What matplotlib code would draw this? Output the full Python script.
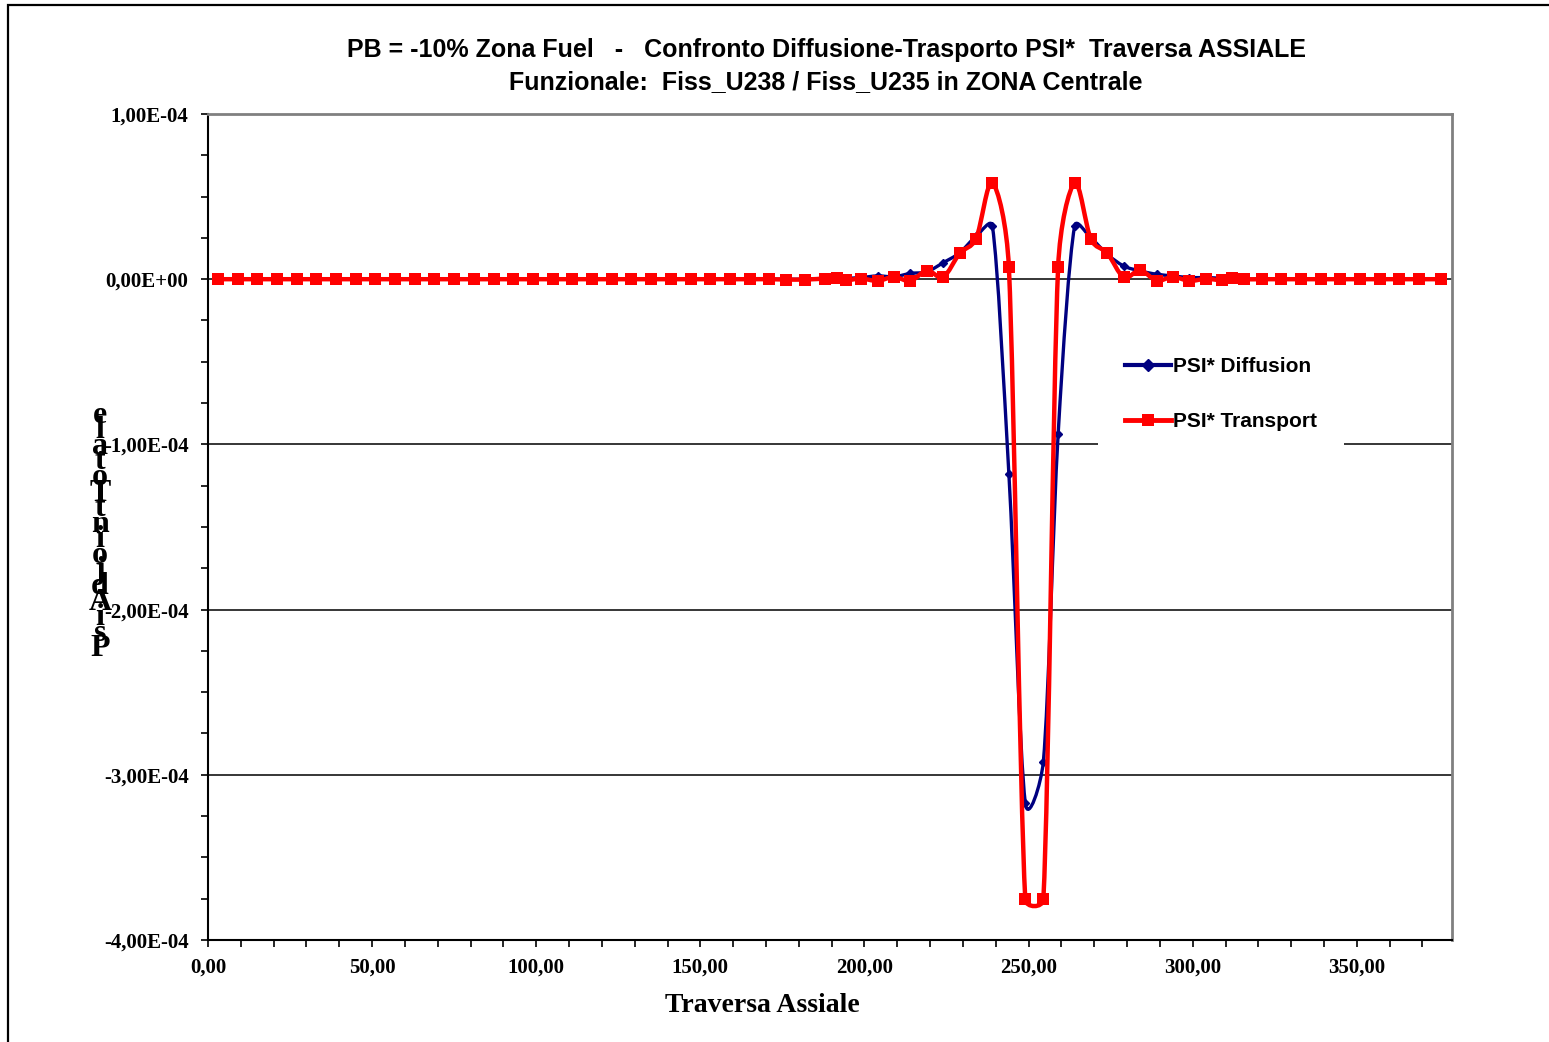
import numpy as np
import matplotlib
matplotlib.use('Agg')
import matplotlib.pyplot as plt
from matplotlib.path import Path
from matplotlib.patches import PathPatch, Rectangle
from matplotlib.lines import Line2D
from matplotlib.ticker import MultipleLocator, FuncFormatter

# ---- data (values in units of 1e-4) ----
x_pos = [3, 9, 15, 21, 27, 33, 39, 45, 51, 57, 63, 69, 75, 81, 87, 93, 99,
         105, 111, 117, 123, 129, 135, 141, 147, 153, 159, 165, 171,
         176, 182, 188, 191.5, 194.5, 199, 204, 209, 214, 219, 224, 229,
         234, 239, 244, 249, 254.5, 259, 264, 269, 274, 279, 284, 289,
         294, 299, 304, 309, 312, 315.5,
         321, 327, 333, 339, 345, 351, 357, 363, 369, 375.5]

psi_diffusion = [0] * 29 + [
    0.0, 0.0, 0.005, 0.0, 0.005, 0.01, 0.02, 0.015, 0.035, 0.045, 0.10, 0.16,
    0.26, 0.32, -1.18, -3.17, -2.92, -0.94, 0.32, 0.25, 0.15, 0.08, 0.05, 0.03,
    0.02, 0.01, 0.01, 0.005, 0.0, 0.0] + [0] * 10

psi_transport = [0] * 29 + [
    -0.002, -0.002, 0.004, 0.008, -0.006, 0.004, -0.010, 0.014, -0.010, 0.052,
    0.014, 0.156, 0.246, 0.583, 0.071, -3.754, -3.754, 0.073, 0.581, 0.242,
    0.157, 0.012, 0.054, -0.008, 0.014, -0.010, 0.002, -0.006, 0.008, 0.0] + [0] * 10

series_labels = ["PSI* Diffusion", "PSI* Transport"]
title_1 = "PB = -10% Zona Fuel   -   Confronto Diffusione-Trasporto PSI*  Traversa ASSIALE"
title_2 = "Funzionale:  Fiss_U238 / Fiss_U235 in ZONA Centrale"
x_title = "Traversa Assiale"
y_title = "PsiAdjointTotale"

BLUE = '#000080'
RED = '#FF0000'
SANS = 'Liberation Sans'
SERIF = 'Liberation Serif'


def smooth_path(ax, xs, ys, k_max=0.5):
    # excel-like smoothed line: catmull-rom handles in screen space,
    # handle length limited by the segment length
    pts = ax.transData.transform(np.column_stack([xs, ys]))
    n = len(pts)
    verts = [pts[0]]
    codes = [Path.MOVETO]
    for i in range(n - 1):
        p0 = pts[max(i - 1, 0)]
        p1 = pts[i]
        p2 = pts[i + 1]
        p3 = pts[min(i + 2, n - 1)]
        L = np.hypot(*(p2 - p1))
        h1 = (p2 - p0) / 6
        h2 = (p3 - p1) / 6
        for h in (h1, h2):
            m = np.hypot(*h)
            if m > L * k_max:
                h *= L * k_max / m
        verts += [p1 + h1, p2 - h2, p2]
        codes += [Path.CURVE4] * 3
    verts = ax.transData.inverted().transform(np.array(verts))
    return Path(verts, codes)


x = np.array(x_pos, dtype=float)
yd = np.array(psi_diffusion) * 1e-4
yt = np.array(psi_transport) * 1e-4

W, H = 1549, 1042
fig = plt.figure(figsize=(W / 100, H / 100), dpi=100)
ax = fig.add_axes([208 / W, 1 - 940 / H, (1452 - 208) / W, (940 - 114) / H])
ax.set_xlim(0, 379)
ax.set_ylim(-4e-4, 1e-4)

ax.add_patch(PathPatch(smooth_path(ax, x, yd), fc='none', ec=BLUE, lw=2.4,
                       joinstyle='round', capstyle='round', zorder=3))
ax.plot(x, yd, ls='none', marker='D', ms=4.5, color=BLUE, mec=BLUE, zorder=3)
ax.add_patch(PathPatch(smooth_path(ax, x, yt), fc='none', ec=RED, lw=3.2,
                       joinstyle='round', capstyle='round', zorder=4))
ax.plot(x, yt, ls='none', marker='s', ms=8.5, color=RED, mec=RED, mew=0, zorder=4)

ax.xaxis.set_major_locator(MultipleLocator(50))
ax.xaxis.set_minor_locator(MultipleLocator(10))
ax.yaxis.set_major_locator(MultipleLocator(1e-4))
ax.yaxis.set_minor_locator(MultipleLocator(0.25e-4))
ax.xaxis.set_major_formatter(FuncFormatter(lambda v, p: f"{v:.2f}".replace('.', ',')))
ax.yaxis.set_major_formatter(FuncFormatter(lambda v, p: f"{v:.2E}".replace('.', ',')))
ax.tick_params(axis='both', which='both', direction='out', length=5, width=1.2,
               color='black')
ax.tick_params(axis='y', pad=9)
ax.tick_params(axis='x', pad=8)
for lab in ax.get_xticklabels() + ax.get_yticklabels():
    lab.set_fontfamily(SERIF)
    lab.set_fontweight('bold')
    lab.set_fontsize(15)

ax.yaxis.grid(True, which='major', color='black', lw=1.1)
ax.set_axisbelow(True)
for side in ['top', 'right']:
    ax.spines[side].set_color('#808080')
    ax.spines[side].set_linewidth(2)
for side in ['left', 'bottom']:
    ax.spines[side].set_color('black')
    ax.spines[side].set_linewidth(1.5)

# titles
fig.text(826 / W, 1 - 50 / H, title_1, ha='center', va='center',
         family=SANS, weight='bold', size=18)
fig.text(826 / W, 1 - 82 / H, title_2, ha='center', va='center',
         family=SANS, weight='bold', size=18)
fig.text(762 / W, 1 - 1005 / H, x_title, ha='center', va='center',
         family=SERIF, weight='bold', size=20)
fig.text(100 / W, 1 - 532 / H, "\n".join(reversed(y_title)), ha='center',
         va='center', family=SERIF, weight='bold', size=23, linespacing=0.39)

handles = [Line2D([], [], color=BLUE, lw=3, marker='D', ms=6),
           Line2D([], [], color=RED, lw=3.5, marker='s', ms=9, mew=0)]
fig.legend(handles, series_labels, loc='upper left',
           bbox_to_anchor=(1098 / W, 1 - 330 / H), frameon=True, fancybox=False,
           edgecolor='none', facecolor='white', framealpha=1,
           prop={'family': SANS, 'weight': 'bold', 'size': 15},
           handlelength=2.2, handletextpad=0.1, labelspacing=1.74,
           borderpad=1.3, borderaxespad=0)

# outer chart frame
fig.add_artist(Rectangle((8 / W, -0.05), 1.0, (H - 5) / H + 0.05,
                         transform=fig.transFigure, fill=False, ec='black', lw=1.6))

fig.savefig('out.png', dpi=100)
